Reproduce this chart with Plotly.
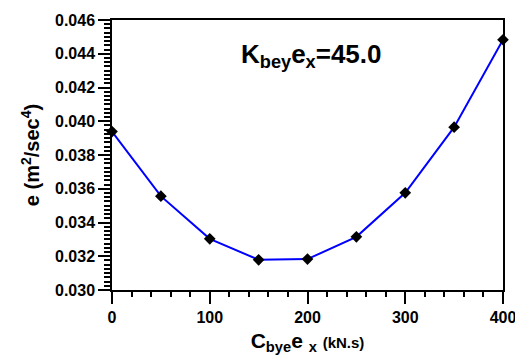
import plotly.graph_objects as go

# Data
c_values = [0, 50, 100, 150, 200, 250, 300, 350, 400]
e_values = [0.03939, 0.03556, 0.03303, 0.03179, 0.03183, 0.03315, 0.03576, 0.03965, 0.04483]

x_range = [0, 400]
y_range = [0.030, 0.046]

FONT = "Liberation Sans, Arial, sans-serif"

fig = go.Figure()
fig.add_trace(go.Scatter(
    x=c_values, y=e_values, mode="lines+markers",
    line=dict(color="#0000FF", width=2),
    marker=dict(symbol="diamond", size=9, color="black"),
    cliponaxis=False, showlegend=False,
))

fig.update_layout(
    width=515, height=355,
    margin=dict(l=112, r=12, t=20, b=65, autoexpand=False),
    paper_bgcolor="white", plot_bgcolor="white",
    font=dict(family=FONT, color="black"),
    xaxis=dict(
        range=x_range, tick0=0, dtick=100, automargin=False,
        ticks="outside", ticklen=12, tickwidth=1.5, tickcolor="black",
        minor=dict(tick0=0, dtick=20, ticks="outside", ticklen=5, tickwidth=1.5,
                   tickcolor="black", showgrid=False),
        showgrid=False, zeroline=False,
        showline=True, linecolor="black", linewidth=1.5, mirror=True,
        tickfont=dict(size=16, family=FONT, weight="bold"),
        ticklabeloverflow="allow",
        title=dict(
            text="C<sub>bye</sub>e <sub>x</sub> <span style='font-size:15px'>(kN.s)</span>",
            font=dict(size=21, family=FONT, weight="bold"), standoff=10),
    ),
    yaxis=dict(
        range=y_range, tick0=0.030, dtick=0.002, tickformat=".3f", automargin=False,
        ticks="outside", ticklen=12, tickwidth=1.5, tickcolor="black",
        minor=dict(tick0=0.030, dtick=0.00025, ticks="outside", ticklen=6, tickwidth=1.5,
                   tickcolor="black", showgrid=False),
        showgrid=False, zeroline=False,
        showline=True, linecolor="black", linewidth=1.5, mirror=True,
        tickfont=dict(size=16, family=FONT, weight="bold"),
        ticklabeloverflow="allow",
        title=dict(text="e (m<sup>2</sup>/sec<sup>4</sup>)",
                   font=dict(size=20, family=FONT, weight="bold"), standoff=10),
    ),
    annotations=[dict(
        x=0.51, y=0.87, xref="paper", yref="paper",
        text="K<sub>bey</sub>e<sub>x</sub>=45.0", showarrow=False,
        font=dict(size=26, family=FONT, weight="bold", color="black"),
        xanchor="center", yanchor="middle",
    )],
)

fig.write_html("out.html")
